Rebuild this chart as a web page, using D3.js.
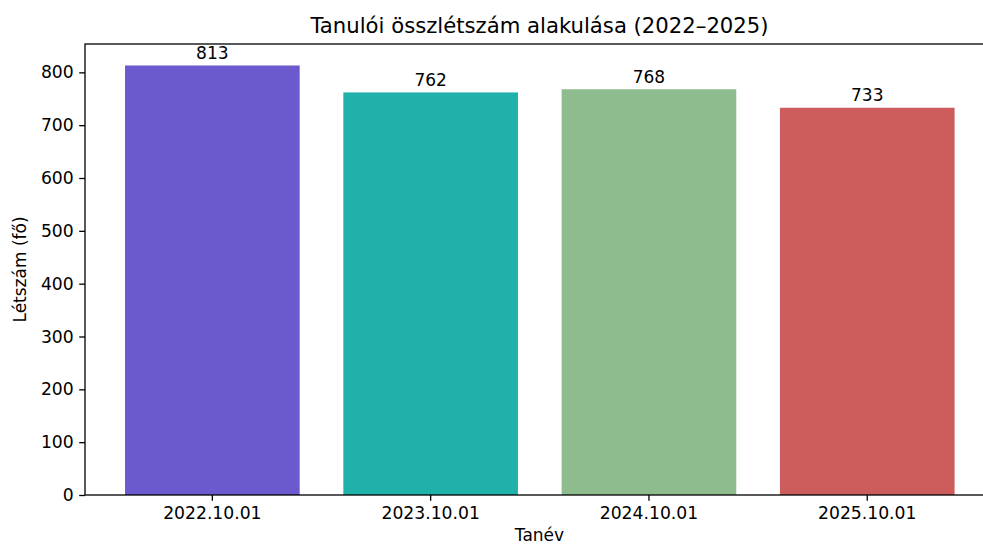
<!DOCTYPE html>
<html>
<head>
<meta charset="utf-8">
<script src="https://cdn.jsdelivr.net/npm/d3@7"></script>
<style>
  body { margin: 0; background: #fff; }
  text { font-family: "DejaVu Sans", sans-serif; fill: #000; }
</style>
</head>
<body>
<div id="vis"></div>
<script>
// chart data
var categories = ["2022.10.01", "2023.10.01", "2024.10.01", "2025.10.01"];
var values = [813, 762, 768, 733];
var colors = ["#6a5acd", "#20b2aa", "#8fbc8f", "#cd5c5c"];
var yTicks = [0, 100, 200, 300, 400, 500, 600, 700, 800];

var width = 983,
    height = 547,
    margin = { top: 44, right: 994, bottom: 495, left: 85 }; // plot box edges

var svg = d3.select("#vis").append("svg")
    .attr("width", width)
    .attr("height", height);

// band scale: bars 0.8 of step, symmetric outer gap
var x = d3.scaleBand()
    .domain(categories)
    .range([103.2, 976.4])
    .paddingInner(0.2)
    .paddingOuter(0.1);

var y = d3.scaleLinear()
    .domain([0, 813 * 1.05])
    .range([margin.bottom, margin.top]);

// bars
svg.append("g")
    .selectAll("rect")
    .data(values)
    .enter().append("rect")
    .attr("x", function(d, i) { return x(categories[i]); })
    .attr("y", function(d) { return y(d); })
    .attr("width", x.bandwidth())
    .attr("height", function(d) { return y(0) - y(d); })
    .attr("fill", function(d, i) { return colors[i]; });

// value labels
svg.append("g")
    .selectAll("text")
    .data(values)
    .enter().append("text")
    .attr("x", function(d, i) { return x(categories[i]) + x.bandwidth() / 2; })
    .attr("y", function(d) { return y(d) - 6.5; })
    .attr("text-anchor", "middle")
    .style("font-size", "17px")
    .text(function(d) { return d; });

// axes
var yAxis = d3.axisLeft(y).tickValues(yTicks).tickSize(5.8).tickPadding(5.5);
var xAxis = d3.axisBottom(x).tickSize(5.8).tickPadding(5.5);

var gy = svg.append("g")
    .attr("transform", "translate(" + margin.left + ",0)")
    .call(yAxis);
var gx = svg.append("g")
    .attr("transform", "translate(0," + margin.bottom + ")")
    .call(xAxis);

[gx, gy].forEach(function(g) {
    g.select(".domain").remove();
    g.selectAll("line").attr("stroke", "#000").attr("stroke-width", 1.3);
    g.selectAll("text")
        .style("font-family", "DejaVu Sans")
        .style("font-size", "17.2px")
        .attr("fill", "#000");
});

// frame
svg.append("rect")
    .attr("x", margin.left)
    .attr("y", margin.top)
    .attr("width", margin.right - margin.left)
    .attr("height", margin.bottom - margin.top)
    .attr("fill", "none")
    .attr("stroke", "#000")
    .attr("stroke-width", 1.3);

// title and axis labels
var cx = (margin.left + margin.right) / 2;
svg.append("text")
    .attr("x", cx)
    .attr("y", 33)
    .attr("text-anchor", "middle")
    .style("font-size", "21.2px")
    .text("Tanulói összlétszám alakulása (2022–2025)");

svg.append("text")
    .attr("x", cx)
    .attr("y", 541)
    .attr("text-anchor", "middle")
    .style("font-size", "17px")
    .text("Tanév");

svg.append("text")
    .attr("transform", "translate(26," + (margin.top + margin.bottom) / 2 + ") rotate(-90)")
    .attr("text-anchor", "middle")
    .style("font-size", "17px")
    .text("Létszám (fő)");
</script>
</body>
</html>
